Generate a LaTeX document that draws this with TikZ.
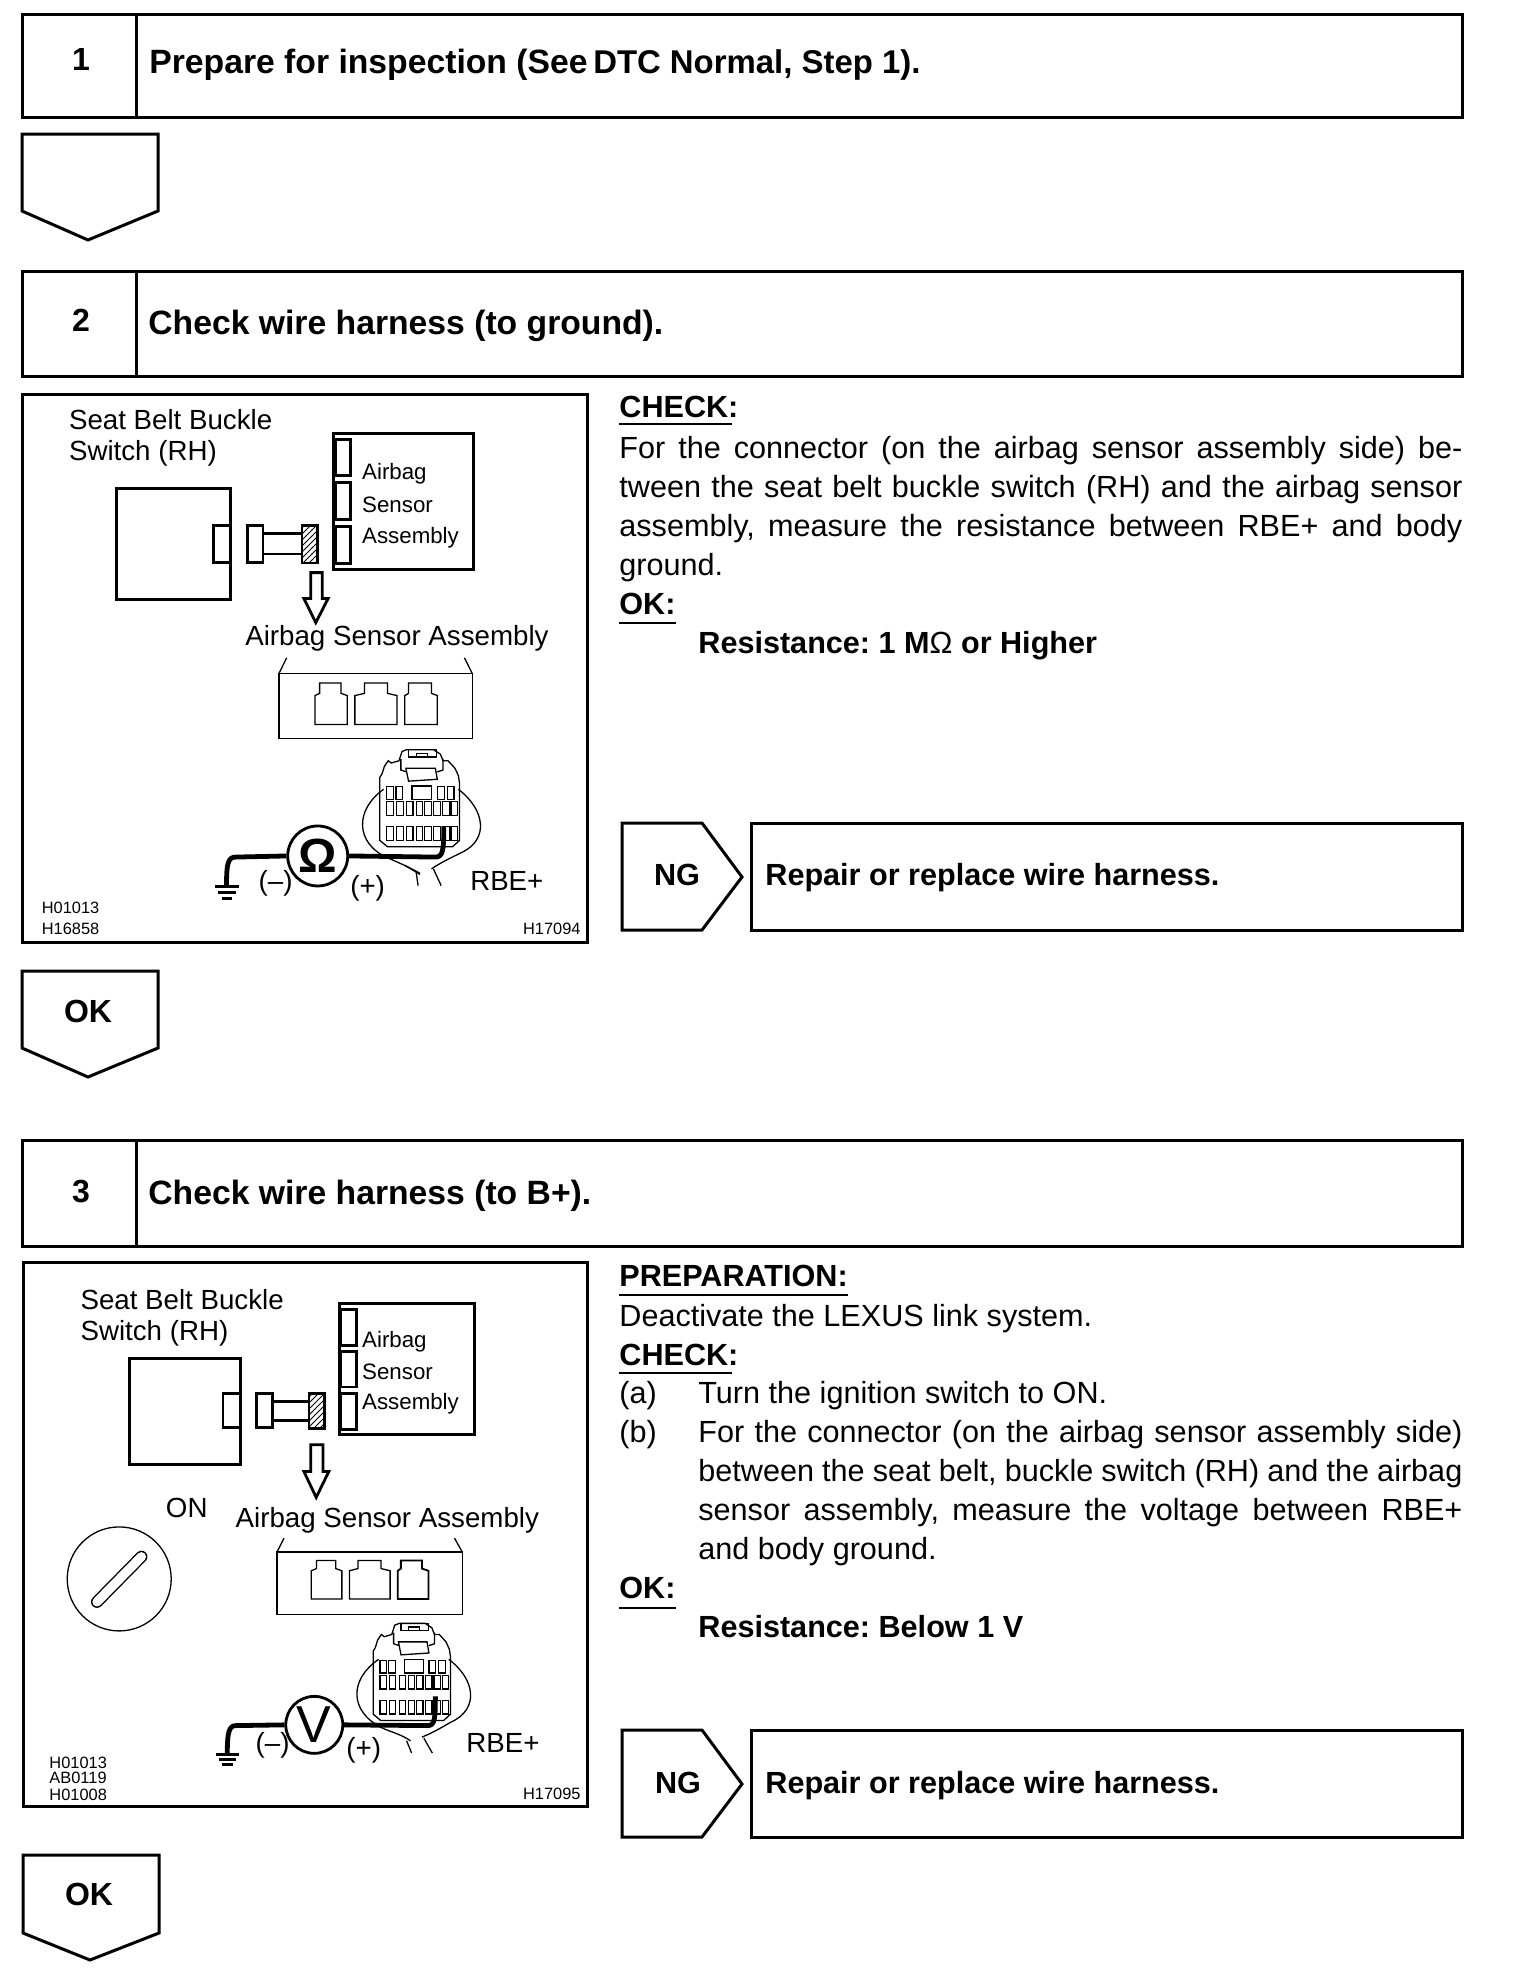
\documentclass[tikz,border=0pt]{standalone}
\usepackage{fontspec}
\setmainfont{Liberation Sans}
\usetikzlibrary{patterns}
\AtBeginDocument{\frenchspacing}
\tikzset{
 x=0.5pt,y=-0.5pt,
 heavy/.style={line width=1.5pt,draw=black,line join=miter},
 thin line/.style={line width=0.8pt,draw=black},
 inset line/.style={line width=1.4pt,draw=black},
 fine line/.style={line width=0.65pt,draw=black},
 wire/.style={line width=2.4pt,draw=black,line join=round},
 title/.style={anchor=west,inner sep=0pt,font=\fontsize{16.85}{17}\selectfont\bfseries},
 repairt/.style={anchor=west,inner sep=0pt,font=\fontsize{15.3}{16}\selectfont\bfseries},
 stepnum/.style={anchor=center,inner sep=0pt,font=\fontsize{16}{16}\selectfont\bfseries},
 ngt/.style={anchor=center,inner sep=0pt,font=\fontsize{15.3}{16}\selectfont\bfseries},
 body/.style={anchor=west,inner sep=0pt,font=\fontsize{15.3}{15}\selectfont},
 bodyb/.style={anchor=west,inner sep=0pt,font=\fontsize{15.3}{15}\selectfont\bfseries},
 ins/.style={anchor=west,inner sep=0pt,font=\fontsize{13.85}{14}\selectfont},
 inss/.style={anchor=west,inner sep=0pt,font=\fontsize{11.15}{12}\selectfont},
 code/.style={anchor=west,inner sep=0pt,font=\fontsize{8.2}{8}\selectfont},
}
\newcommand{\jl}[1]{\makebox[421.5pt][s]{#1}}
\newcommand{\jm}[1]{\makebox[382pt][s]{#1}}
\newcommand{\plug}[1]{%
\begin{scope}[shift={(#1)}]
 % shell
 \draw[fine line] (0,120) -- (0,75) -- (6,65) -- (12,45) -- (22,30) -- (30,36) -- (50,30) -- (58,5) -- (70,0) -- (140,0) -- (158,12) -- (165,30) -- (178,30) -- (196,50) -- (205,70) -- (208,90) -- (208,245) -- (190,262) -- (20,262) -- (0,245) -- cycle;
 \draw[fine line] (75,0) rectangle (148,20);
 \draw[fine line] (95,10) rectangle (125,20);
 \draw[fine line] (68,50) -- (145,50) -- (150,80) -- (75,85) -- cycle;
 \draw[fine line] (55,25) -- (55,55) -- (70,60);
 \draw[fine line] (165,25) -- (165,55) -- (150,60);
 % cavities
 \foreach \xx in {18,42,150,176} \draw[fine line] (\xx,100) rectangle ++(18,34);
 \draw[fine line] (84,98) rectangle (135,134);
 \foreach \xx in {18,44,70,95,117,141,164,186} {
   \draw[fine line] (\xx,140) rectangle ++(17,37);
 }
 \foreach \xx in {18,44,70,95,117,141,164,186} {
   \draw[fine line] (\xx,208) rectangle ++(17,37);
 }
\end{scope}}
\begin{document}
\begin{tikzpicture}
\useasboundingbox (0,0) rectangle (1520,1970);
\fill[white] (0,0) rectangle (1520,1970);
% === Step boxes ===
\draw[heavy] (22,14) rectangle (1462,117);
\draw[heavy] (136,14) -- (136,117);
\node[stepnum] (n1) at (81,59) {1};
\node[title] (t1) at (149,65) {Prepare for inspection (See\,\fontsize{16.45}{16}\selectfont DTC Normal, Step 1).};
\draw[heavy] (22,134) -- (158,134) -- (158,211) -- (88,240) -- (22,211) -- cycle;
\draw[heavy] (22,271) rectangle (1462,376);
\draw[heavy] (136,271) -- (136,376);
\node[stepnum] (n2) at (81,320) {2};
\node[title] (t2) at (148,326) {Check wire harness (to ground).};
% frame 1
\draw[heavy] (22,394) rectangle (587,942);
% right side step 2
\node[bodyb] (c1) at (619,407) {CHECK:};
\draw[thin line] (619,424) -- (732,424);
\node[body] (l1) at (619,451) {\jl{For the connector (on the airbag sensor assembly side) be-}};
\node[body] (l2) at (619,490) {\jl{tween the seat belt buckle switch (RH) and the airbag sensor}};
\node[body] (l3) at (619,529) {\jl{assembly, measure the resistance between RBE+ and body}};
\node[body] (l4) at (619,568) {ground.};
\node[bodyb] (o1) at (619,604) {OK:};
\draw[thin line] (619,623) -- (676,623);
\node[bodyb] (r1) at (698,646) {Resistance: 1 M{\mdseries Ω} or Higher};
% NG 1
\draw[heavy] (622,823) -- (702,823) -- (742,877) -- (702,930) -- (622,930) -- cycle;
\node[ngt] (ng1) at (677,875) {NG};
\draw[heavy] (751,823) rectangle (1462,930);
\node[repairt] (rr1) at (765,878) {Repair or replace wire harness.};
% OK pentagon 1
\draw[heavy] (22,971) -- (158,971) -- (158,1048) -- (88,1077) -- (22,1048) -- cycle;
\node[stepnum] (ok1) at (88,1011) {OK};
% step 3
\draw[heavy] (22,1140) rectangle (1462,1246);
\draw[heavy] (136,1140) -- (136,1246);
\node[stepnum] (n3) at (81,1191) {3};
\node[title] (t3) at (148,1196) {Check wire harness (to B+).};
\draw[heavy] (23,1262) rectangle (587,1806);
\node[bodyb] (p3) at (619,1276) {PREPARATION:};
\draw[thin line] (619,1295) -- (848,1295);
\node[body] (d3) at (619,1319) {Deactivate the LEXUS link system.};
\node[bodyb] (c3) at (619,1355) {CHECK:};
\draw[thin line] (619,1373) -- (732,1373);
\node[body] (a3) at (619,1396) {(a)};
\node[body] (a3t) at (698,1396) {Turn the ignition switch to ON.};
\node[body] (b3) at (619,1435) {(b)};
\node[body] (b1) at (698,1435) {\jm{For the connector (on the airbag sensor assembly side)}};
\node[body] (b2) at (698,1474) {\jm{between the seat belt, buckle switch (RH) and the airbag}};
\node[body] (b4) at (698,1513) {\jm{sensor assembly, measure the voltage between RBE+}};
\node[body] (b5) at (698,1552) {and body ground.};
\node[bodyb] (o3) at (619,1588) {OK:};
\draw[thin line] (619,1608) -- (676,1608);
\node[bodyb] (r3) at (698,1627) {Resistance: Below 1 V};
\draw[heavy] (622,1730) -- (702,1730) -- (742,1784) -- (702,1837) -- (622,1837) -- cycle;
\node[ngt] (ng3) at (678,1783) {NG};
\draw[heavy] (751,1730) rectangle (1462,1837);
\node[repairt] (rr3) at (765,1786) {Repair or replace wire harness.};
\draw[heavy] (23,1855) -- (159,1855) -- (159,1933) -- (90,1960) -- (23,1933) -- cycle;
\node[stepnum] (ok3) at (89,1894) {OK};

% === Inset 1 (zoom coordinates) ===
\begin{scope}[shift={(10,380)},x=0.1916pt,y=-0.1852pt]
\node[ins] (s1a) at (153,108) {Seat Belt Buckle};
\node[ins] (s1b) at (153,198) {Switch (RH)};
\draw[inset line] (277,292) rectangle (575,592);
\draw[inset line] (532,392) rectangle (575,492);
\draw[inset line] (620,392) rectangle (660,492);
\draw[inset line] (660,415) -- (762,415);
\draw[inset line] (660,470) -- (762,470);
\draw[inset line,pattern=north east lines] (762,392) rectangle (803,494);
\draw[inset line] (845,145) rectangle (1210,512);
\draw[inset line] (850,160) rectangle (888,258);
\draw[inset line] (850,276) rectangle (888,376);
\draw[inset line] (850,396) rectangle (888,496);
\node[inss] (a1a) at (918,252) {Airbag};
\node[inss] (a1b) at (918,338) {Sensor};
\node[inss] (a1c) at (918,425) {Assembly};
\draw[inset line] (785,520) -- (815,520) -- (815,590) -- (830,590) -- (798,655) -- (767,590) -- (785,590) -- cycle;
\node[ins] (asa1) at (613,698) {Airbag Sensor Assembly};
\draw[fine line] (702,968) rectangle (1206,792);
\draw[fine line] (702,792) -- (722,750);
\draw[fine line] (1206,792) -- (1186,750);
\draw[fine line] (796,930) -- (796,852) -- (808,846) -- (808,818) -- (864,818) -- (864,846) -- (880,852) -- (880,930) -- cycle;
\draw[fine line] (900,930) -- (900,852) -- (925,846) -- (925,818) -- (985,818) -- (985,846) -- (1010,852) -- (1010,930) -- cycle;
\draw[fine line] (1030,930) -- (1030,852) -- (1040,846) -- (1040,818) -- (1100,818) -- (1100,846) -- (1115,852) -- (1115,930) -- cycle;
\plug{965,998}
\draw[fine line] (975,1105) .. controls (900,1160) and (900,1250) .. (985,1290) .. controls (1020,1305) and (1050,1320) .. (1070,1332);
\draw[fine line] (1170,1105) .. controls (1240,1160) and (1250,1240) .. (1180,1275) .. controls (1150,1290) and (1120,1305) .. (1100,1320);
\draw[fine line] (1060,1330) -- (1065,1365);
\draw[fine line] (1105,1320) -- (1125,1365);
\draw[fine line] (1030,1310) -- (1070,1335);
\node[draw,circle,line width=1.4pt,minimum size=30pt,inner sep=0pt,fill=white] (ohm1) at (803,1285) {};
\node[inner sep=0pt,font=\fontsize{24}{24}\selectfont\bfseries] (ohmt) at (803,1285) {Ω};
\coordinate (g1) at (565,1365);
\coordinate (w1) at (1132,1205);
\draw[wire] (ohm1.west) -- (590,1288) .. controls (570,1288) and (565,1300) .. (g1);
\draw[wire] (ohm1.east) -- (1110,1288) .. controls (1130,1288) and (1132,1270) .. (w1);
\draw[inset line] (535,1368) -- (598,1368);
\draw[inset line] (542,1384) -- (590,1384);
\draw[inset line] (552,1400) -- (580,1400);
\node[ins] (m1) at (648,1358) {(–)};
\node[ins] (p1) at (887,1372) {(+)};
\node[ins] (rb1) at (1200,1352) {RBE+};
\node[code] (h1) at (82,1425) {H01013};
\node[code] (h2) at (82,1483) {H16858};
\node[code] (h3) at (1338,1483) {H17094};
\end{scope}

% === Inset 2 ===
\begin{scope}[shift={(10,1250)},x=0.1916pt,y=-0.1852pt]
\node[ins] (s2a) at (183,135) {Seat Belt Buckle};
\node[ins] (s2b) at (183,225) {Switch (RH)};
\draw[inset line] (312,292) rectangle (601,578);
\draw[inset line] (556,388) rectangle (601,480);
\draw[inset line] (644,388) rectangle (684,480);
\draw[inset line] (684,410) -- (780,410);
\draw[inset line] (684,460) -- (780,460);
\draw[inset line,pattern=north east lines] (780,388) rectangle (820,482);
\draw[inset line] (860,145) rectangle (1212,498);
\draw[inset line] (864,160) rectangle (905,258);
\draw[inset line] (864,274) rectangle (905,370);
\draw[inset line] (864,388) rectangle (905,484);
\node[inss] (a2a) at (918,248) {Airbag};
\node[inss] (a2b) at (918,328) {Sensor};
\node[inss] (a2c) at (918,414) {Assembly};
\draw[inset line] (785,526) -- (817,526) -- (817,598) -- (832,598) -- (799,668) -- (767,598) -- (785,598) -- cycle;
\node[ins] (on2) at (406,697) {ON};
\node[ins] (asa2) at (588,730) {Airbag Sensor Assembly};
\node[draw,circle,fine line,minimum size=52pt,inner sep=0pt] (key) at (285,888) {};
\draw[line width=0.7pt,double=white,double distance=4.6pt,line cap=round] (227,950) -- (343,828);
\draw[fine line] (697,984) rectangle (1180,815);
\draw[fine line] (697,815) -- (715,778);
\draw[fine line] (1180,815) -- (1160,778);
\draw[fine line] (786,942) -- (786,866) -- (800,860) -- (800,838) -- (850,838) -- (850,860) -- (866,866) -- (866,942) -- cycle;
\draw[fine line] (886,942) -- (886,866) -- (908,860) -- (908,838) -- (968,838) -- (968,860) -- (992,866) -- (992,942) -- cycle;
\draw[fine line,line width=0.9pt] (1012,942) -- (1012,866) -- (1020,860) -- (1020,838) -- (1075,838) -- (1075,860) -- (1092,866) -- (1092,942) -- cycle;
\begin{scope}[xscale=0.97]
\plug{977,1008}
\end{scope}
\draw[fine line] (962,1105) .. controls (885,1160) and (885,1245) .. (970,1290) .. controls (1000,1303) and (1025,1310) .. (1045,1325);
\draw[fine line] (1145,1105) .. controls (1215,1160) and (1225,1240) .. (1150,1275) .. controls (1125,1290) and (1100,1305) .. (1075,1315);
\draw[fine line] (1035,1325) -- (1048,1358);
\draw[fine line] (1080,1318) -- (1102,1358);
\node[draw,circle,line width=1.4pt,minimum size=28.5pt,inner sep=0pt,fill=white] (v2) at (794,1282) {};
\node[inner sep=0pt,font=\fontsize{26}{26}\selectfont] (vt) at (794,1280) {V};
\coordinate (g2) at (567,1360);
\coordinate (w2) at (1110,1205);
\draw[wire] (v2.west) -- (590,1284) .. controls (572,1284) and (567,1300) .. (g2);
\draw[wire] (v2.east) -- (1090,1284) .. controls (1108,1284) and (1110,1268) .. (w2);
\draw[inset line] (537,1362) -- (598,1362);
\draw[inset line] (545,1376) -- (590,1376);
\draw[inset line] (553,1390) -- (582,1390);
\node[ins] (m2) at (640,1338) {(–)};
\node[ins] (p2) at (877,1352) {(+)};
\node[ins] (rb2) at (1190,1332) {RBE+};
\node[code] (h4) at (102,1384) {H01013};
\node[code] (h5) at (102,1426) {AB0119};
\node[code] (h6) at (102,1470) {H01008};
\node[code] (h7) at (1338,1468) {H17095};
\end{scope}
\end{tikzpicture}
\end{document}
